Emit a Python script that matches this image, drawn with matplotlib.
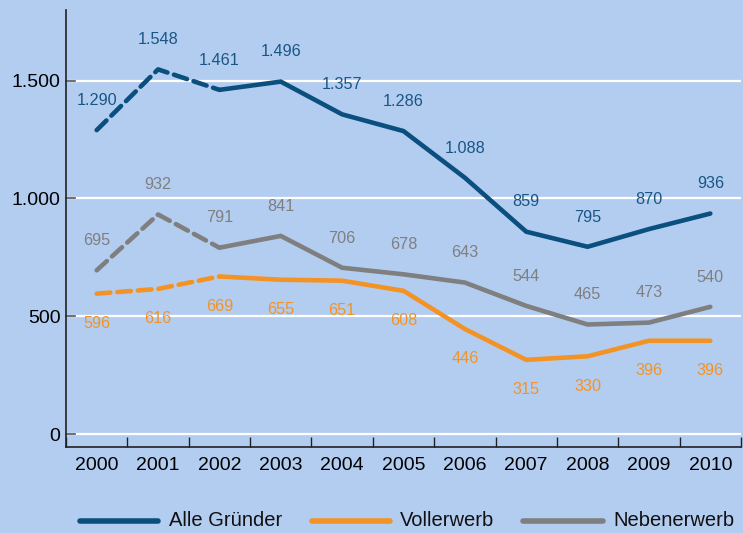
import matplotlib
matplotlib.use("Agg")
import matplotlib.pyplot as plt
from matplotlib.lines import Line2D

plt.rcParams['font.family'] = ['Liberation Sans', 'DejaVu Sans']

years = ["2000", "2001", "2002", "2003", "2004", "2005", "2006", "2007", "2008", "2009", "2010"]
alle = [1290, 1548, 1461, 1496, 1357, 1286, 1088, 859, 795, 870, 936]
voll = [596, 616, 669, 655, 651, 608, 446, 315, 330, 396, 396]
neben = [695, 932, 791, 841, 706, 678, 643, 544, 465, 473, 540]
series_names = ["Alle Gründer", "Vollerwerb", "Nebenerwerb"]

bg = "#b3cdf1"
c_alle = "#0b4f7e"
c_alle_txt = "#1a5684"
c_voll = "#f39325"
c_neben = "#7f7f7f"

W, H = 743, 533

def fmt(v):
    return f"{v:,}".replace(",", ".")

fig = plt.figure(figsize=(W / 100, H / 100), dpi=100, facecolor=bg)
ax = fig.add_axes([66 / W, (H - 447) / H, (741 - 66) / W, (447 - 10) / H])
ax.set_facecolor(bg)

x = list(range(len(years)))
lw = 3.3
for vals, col, tcol, off, va in [
    (alle, c_alle, c_alle_txt, 16, 'bottom'),
    (neben, c_neben, c_neben, 16, 'bottom'),
    (voll, c_voll, c_voll, -16, 'top'),
]:
    ax.plot(x[:3], vals[:3], color=col, lw=lw, ls=(0, (3.0, 1.5)), dash_capstyle='round', zorder=3)
    ax.plot(x[2:], vals[2:], color=col, lw=lw, solid_capstyle='round', solid_joinstyle='miter', zorder=3)
    for xi, v in zip(x, vals):
        ax.annotate(fmt(v), (xi, v), xytext=(0, off), textcoords='offset points',
                    ha='center', va=va, color=tcol, fontsize=11.7)

ax.set_xlim(-0.5, 10.5)
ax.set_ylim(-55, 1800)
ax.set_yticks([0, 500, 1000, 1500])
ax.set_yticklabels([fmt(v) for v in [0, 500, 1000, 1500]], fontsize=14)
ax.yaxis.grid(True, color='white', lw=1.6, zorder=1)
ax.set_axisbelow(True)
ax.set_xticks(x)
ax.set_xticklabels(years, fontsize=14)
ax.set_xticks([i + 0.5 for i in range(-1, 11)], minor=True)
ax.tick_params(axis='x', which='major', length=0, pad=7)
ax.tick_params(axis='x', which='minor', length=7, width=1, color='#222222', direction='in')
ax.tick_params(axis='y', which='major', direction='out', length=0, pad=4)
for s in ['top', 'right']:
    ax.spines[s].set_visible(False)
for s in ['left', 'bottom']:
    ax.spines[s].set_color('#222222')
    ax.spines[s].set_linewidth(1.2)

# short tick marks at y ticks, inside the axis
for yv in [0, 500, 1000, 1500]:
    ax.plot([-0.5, -0.35], [yv, yv], color='#555555', lw=1.2, zorder=2, clip_on=False)

# legend drawn manually at the bottom
ly = (H - 521) / H
items = [(80, 158, 169, c_alle), (312, 390, 400, c_voll), (523, 603, 613, c_neben)]
for (x0, x1, xt, c), name in zip(items, series_names):
    fig.add_artist(Line2D([x0 / W, x1 / W], [ly, ly], color=c, lw=4, solid_capstyle='round',
                          transform=fig.transFigure))
    fig.text(xt / W, ly, name, ha='left', va='center', fontsize=14.5, color='#111111')

fig.savefig("out.png", dpi=100, facecolor=bg)
